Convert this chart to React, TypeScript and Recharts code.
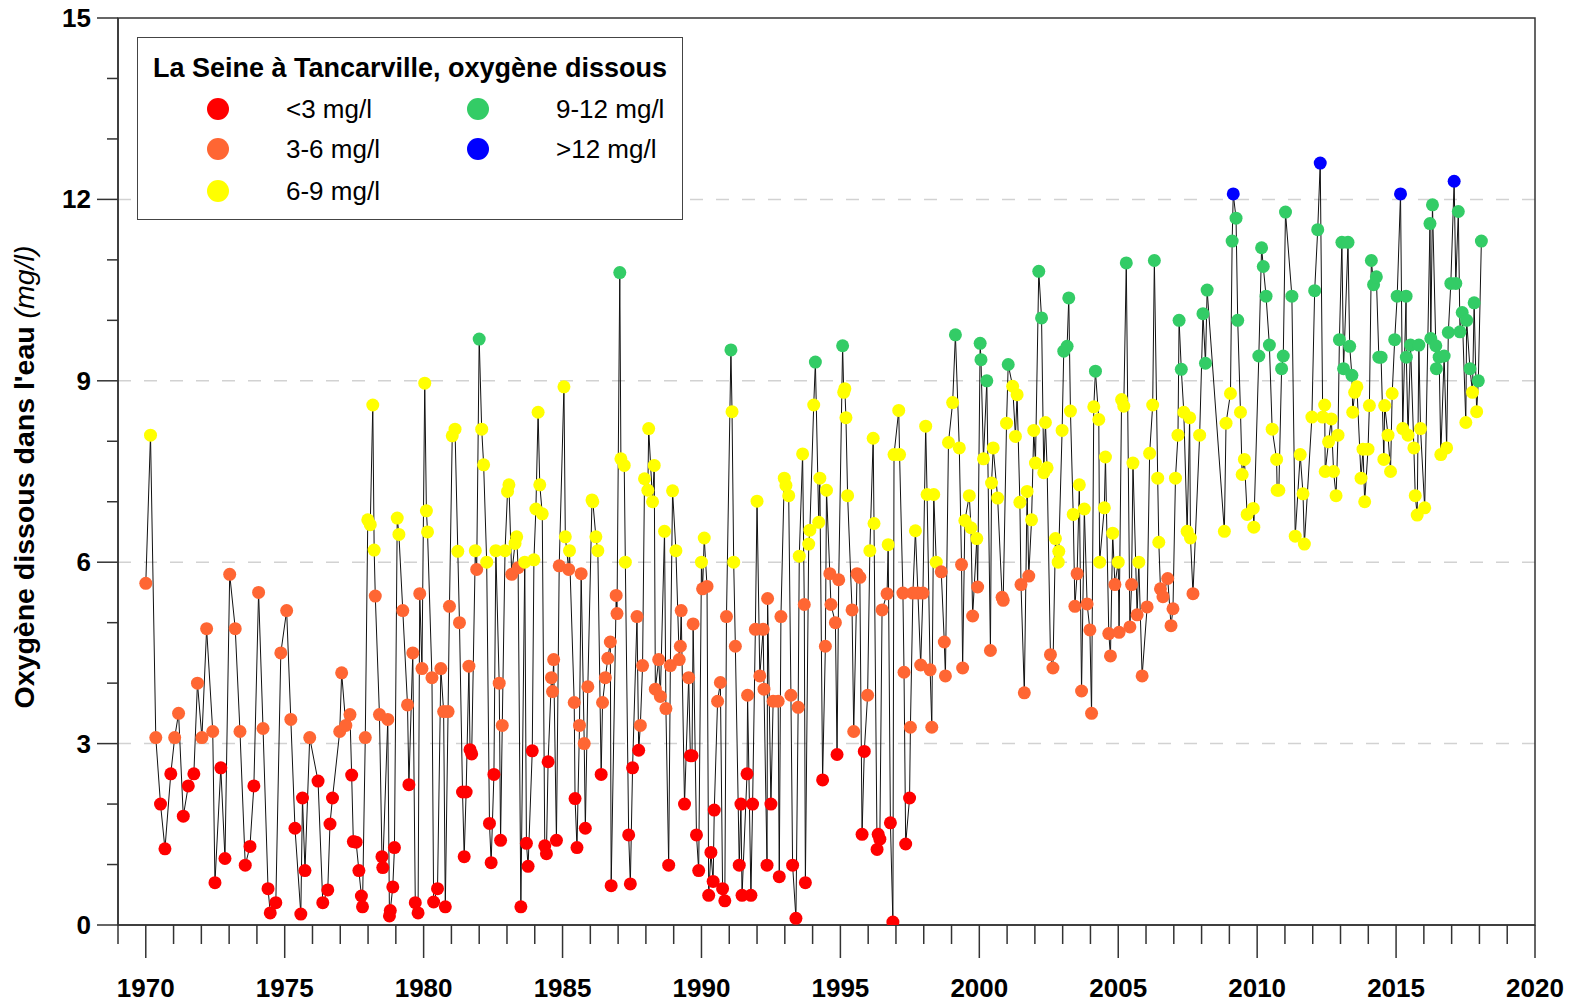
import React from "react";
import {
  ComposedChart,
  Line,
  XAxis,
  YAxis,
  CartesianGrid,
  ReferenceArea,
  Label,
} from "recharts";

// sampling dates (decimal years)
const sampleYears = [
  1970.0, 1970.17, 1970.36, 1970.53, 1970.69, 1970.9, 1971.04, 1971.18, 1971.35, 1971.53,
  1971.73, 1971.86, 1972.02, 1972.19, 1972.41, 1972.49, 1972.7, 1972.85, 1973.02, 1973.22,
  1973.39, 1973.58, 1973.75, 1973.89, 1974.06, 1974.22, 1974.4, 1974.48, 1974.68, 1974.86,
  1975.07, 1975.22, 1975.37, 1975.58, 1975.64, 1975.73, 1975.9, 1976.2, 1976.37, 1976.55,
  1976.63, 1976.72, 1976.98, 1977.05, 1977.2, 1977.35, 1977.41, 1977.47, 1977.57, 1977.67,
  1977.76, 1977.8, 1977.9, 1977.99, 1978.08, 1978.17, 1978.22, 1978.26, 1978.41, 1978.5,
  1978.53, 1978.71, 1978.77, 1978.8, 1978.89, 1978.95, 1979.05, 1979.11, 1979.25, 1979.42,
  1979.47, 1979.61, 1979.7, 1979.8, 1979.86, 1979.94,
  1980.04, 1980.1, 1980.14, 1980.3, 1980.36, 1980.5, 1980.62, 1980.72, 1980.78, 1980.88,
  1980.93, 1981.03, 1981.13, 1981.23, 1981.29, 1981.4, 1981.46, 1981.53, 1981.63, 1981.67,
  1981.73, 1981.86, 1981.91, 1982.0, 1982.09, 1982.16, 1982.27, 1982.37, 1982.43, 1982.53,
  1982.6, 1982.72, 1982.77, 1982.83, 1982.93, 1983.02, 1983.07, 1983.17, 1983.29, 1983.35,
  1983.4, 1983.5, 1983.64, 1983.7, 1983.76, 1983.91, 1983.97, 1984.04, 1984.12, 1984.18,
  1984.27, 1984.36, 1984.42, 1984.48, 1984.6, 1984.64, 1984.68, 1984.78, 1984.88,
  1985.05, 1985.1, 1985.22, 1985.25, 1985.42, 1985.45, 1985.52, 1985.61, 1985.67, 1985.78,
  1985.82, 1985.91, 1986.06, 1986.09, 1986.2, 1986.27, 1986.39, 1986.44, 1986.54, 1986.63,
  1986.72, 1986.75, 1986.93, 1986.96, 1987.06, 1987.1, 1987.22, 1987.26, 1987.38, 1987.44,
  1987.52, 1987.68, 1987.74, 1987.8, 1987.88, 1987.95, 1988.07, 1988.1, 1988.24, 1988.3,
  1988.34, 1988.46, 1988.52, 1988.67, 1988.72, 1988.82, 1988.88, 1988.96, 1989.08, 1989.2,
  1989.24, 1989.27, 1989.39, 1989.54, 1989.6, 1989.66, 1989.7, 1989.82, 1989.9,
  1990.0, 1990.04, 1990.1, 1990.2, 1990.26, 1990.34, 1990.42, 1990.46, 1990.58, 1990.68,
  1990.76, 1990.84, 1990.9, 1991.06, 1991.1, 1991.16, 1991.22, 1991.36, 1991.42, 1991.46,
  1991.64, 1991.66, 1991.78, 1991.84, 1991.94, 1992.0, 1992.1, 1992.22, 1992.25, 1992.36,
  1992.38, 1992.5, 1992.58, 1992.76, 1992.8, 1992.86, 1992.98, 1993.04, 1993.14, 1993.22,
  1993.28, 1993.4, 1993.48, 1993.52, 1993.64, 1993.7, 1993.74, 1993.86, 1993.9, 1994.04,
  1994.1, 1994.22, 1994.26, 1994.36, 1994.46, 1994.5, 1994.62, 1994.66, 1994.82, 1994.88,
  1994.94,
  1995.08, 1995.12, 1995.16, 1995.2, 1995.26, 1995.42, 1995.48, 1995.6, 1995.7, 1995.78,
  1995.86, 1995.98, 1996.06, 1996.18, 1996.21, 1996.32, 1996.36, 1996.42, 1996.5, 1996.68,
  1996.72, 1996.8, 1996.89, 1996.93, 1997.1, 1997.13, 1997.25, 1997.29, 1997.35, 1997.49,
  1997.52, 1997.61, 1997.7, 1997.79, 1997.89, 1997.97, 1998.07, 1998.12, 1998.23, 1998.29,
  1998.36, 1998.45, 1998.63, 1998.74, 1998.78, 1998.89, 1999.04, 1999.14, 1999.28, 1999.36,
  1999.4, 1999.48, 1999.64, 1999.7, 1999.76, 1999.91, 1999.94,
  2000.03, 2000.06, 2000.15, 2000.27, 2000.4, 2000.44, 2000.5, 2000.66, 2000.82, 2000.86,
  2000.98, 2001.04, 2001.2, 2001.3, 2001.36, 2001.46, 2001.5, 2001.62, 2001.72, 2001.78,
  2001.88, 2001.96, 2002.02, 2002.14, 2002.24, 2002.32, 2002.38, 2002.44, 2002.56, 2002.65,
  2002.74, 2002.84, 2002.86, 2002.98, 2003.04, 2003.16, 2003.22, 2003.28, 2003.38, 2003.44,
  2003.52, 2003.6, 2003.68, 2003.78, 2003.88, 2003.98, 2004.04, 2004.12, 2004.18, 2004.3,
  2004.33, 2004.5, 2004.54, 2004.66, 2004.72, 2004.8, 2004.88,
  2005.0, 2005.03, 2005.12, 2005.2, 2005.29, 2005.42, 2005.48, 2005.53, 2005.68, 2005.74,
  2005.86, 2006.04, 2006.13, 2006.24, 2006.3, 2006.42, 2006.46, 2006.52, 2006.61, 2006.78,
  2006.9, 2006.97, 2007.06, 2007.15, 2007.19, 2007.27, 2007.36, 2007.48, 2007.57, 2007.6,
  2007.69, 2007.93, 2008.05, 2008.14, 2008.2, 2008.82, 2008.88, 2009.04, 2009.1, 2009.14,
  2009.24, 2009.3, 2009.4, 2009.46, 2009.54, 2009.64, 2009.86, 2009.88,
  2010.06, 2010.16, 2010.22, 2010.32, 2010.44, 2010.54, 2010.7, 2010.72, 2010.78, 2010.88,
  2010.94, 2011.02, 2011.25, 2011.37, 2011.55, 2011.65, 2011.7, 2011.97, 2012.07, 2012.18,
  2012.27, 2012.36, 2012.43, 2012.45, 2012.57, 2012.67, 2012.75, 2012.84, 2012.91, 2012.96,
  2013.05, 2013.11, 2013.27, 2013.33, 2013.41, 2013.44, 2013.51, 2013.59, 2013.74, 2013.81,
  2013.87, 2013.99, 2014.04, 2014.11, 2014.19, 2014.29, 2014.38, 2014.46, 2014.56, 2014.59,
  2014.71, 2014.8, 2014.86, 2014.95,
  2015.04, 2015.16, 2015.24, 2015.36, 2015.37, 2015.43, 2015.52, 2015.64, 2015.69, 2015.76,
  2015.82, 2015.88, 2016.03, 2016.22, 2016.25, 2016.31, 2016.43, 2016.45, 2016.55, 2016.61,
  2016.73, 2016.82, 2016.88, 2016.97, 2017.09, 2017.15, 2017.24, 2017.3, 2017.38, 2017.51,
  2017.54, 2017.66, 2017.75, 2017.81, 2017.9, 2017.96, 2018.07,
];

// dissolved oxygen, mg/l (same order as sampleYears)
const oxygenMgL = [
  5.65, 8.1, 3.1, 2.0, 1.26, 2.5, 3.1, 3.5, 1.8, 2.3,
  2.5, 4.0, 3.1, 4.9, 3.2, 0.7, 2.6, 1.1, 5.8, 4.9,
  3.2, 0.99, 1.3, 2.3, 5.5, 3.25, 0.6, 0.2, 0.37, 4.5,
  5.2, 3.4, 1.6, 0.18, 2.1, 0.9, 3.1, 2.38, 0.37, 0.58,
  1.67, 2.1, 3.2, 4.17, 3.3, 3.48, 2.48, 1.38, 1.37, 0.9,
  0.48, 0.3, 3.1, 6.7, 6.62, 8.6, 6.2, 5.44, 3.48, 1.13,
  0.95, 3.4, 0.15, 0.24, 0.63, 1.28, 6.73, 6.46, 5.2, 3.64,
  2.32, 4.5, 0.37, 0.2, 5.48, 4.24,
  8.96, 6.85, 6.5, 4.09, 0.38, 0.6, 4.24, 3.53, 0.3, 3.53,
  5.27, 8.09, 8.2, 6.18, 5.0, 2.2, 1.13, 2.2, 4.28, 2.9,
  2.83, 6.19, 5.88, 9.69, 8.2, 7.61, 6.0, 1.68, 1.03, 2.49,
  6.19, 4.0, 1.4, 3.3, 6.19, 7.17, 7.28, 5.8, 6.31, 6.42,
  5.91, 0.3, 6.0, 1.35, 0.97, 2.88, 6.04, 6.88, 8.48, 7.28,
  6.8, 1.31, 1.18, 2.7, 4.09, 3.86, 4.39, 1.4, 5.94,
  8.9, 6.42, 5.88, 6.19, 3.68, 2.09, 1.28, 3.3, 5.81, 3.0,
  1.6, 3.94, 7.03, 7.0, 6.42, 6.19, 2.49, 3.68, 4.09, 4.41,
  4.68, 0.65, 5.45, 5.15, 10.79, 7.71, 7.6, 6.0, 1.49, 0.68,
  2.6, 5.1, 2.89, 3.3, 4.29, 7.38, 7.19, 8.21, 7.0, 7.6,
  3.9, 4.39, 3.78, 6.51, 3.58, 0.99, 4.29, 7.18, 6.19, 4.39,
  4.61, 5.2, 2.0, 4.09, 2.8, 2.8, 4.98, 1.49, 0.9,
  6.0, 5.56, 6.4, 5.6, 0.49, 1.2, 0.72, 1.9, 3.7, 4.01,
  0.6, 0.4, 5.1, 9.51, 8.49, 6.0, 4.61, 0.99, 2.0, 0.49,
  2.5, 3.8, 0.49, 2.0, 4.89, 7.01, 4.12, 4.89, 3.9, 0.99,
  5.4, 2.0, 3.7, 3.7, 0.8, 5.1, 7.39, 7.27, 7.1, 3.8,
  0.99, 0.11, 3.6, 6.1, 7.79, 5.3, 0.7, 6.3, 6.53, 8.6,
  9.31, 6.66, 7.39, 2.4, 4.61, 7.19, 5.81, 5.3, 5.0, 2.82,
  5.71,
  9.58, 8.81, 8.87, 8.39, 7.1, 5.21, 3.2, 5.81, 5.75, 1.5,
  2.87, 3.8, 6.19, 8.05, 6.64, 1.25, 1.5, 1.42, 5.21, 5.48,
  6.29, 1.69, 0.05, 7.78, 8.51, 7.78, 5.49, 4.18, 1.34, 2.1,
  3.27, 5.49, 6.52, 5.49, 4.3, 5.49, 8.25, 7.12, 4.22, 3.27,
  7.12, 6.0, 5.84, 4.68, 4.12, 7.98, 8.64, 9.76, 7.89, 5.96,
  4.25, 6.69, 7.1, 6.57, 5.11, 6.39, 5.59,
  9.62, 9.35, 7.71, 9.0, 4.54, 7.31, 7.89, 7.06, 5.42, 5.37,
  8.3, 9.27, 8.91, 8.08, 8.77, 6.99, 5.63, 3.84, 7.17, 5.77,
  6.7, 8.18, 7.64, 10.81, 10.04, 7.48, 8.31, 7.56, 4.47, 4.25,
  6.39, 6.0, 6.18, 8.18, 9.49, 9.57, 10.37, 8.5, 6.79, 5.27,
  5.81, 7.28, 3.87, 6.88, 5.31, 4.88, 3.5, 8.57, 9.16, 8.36,
  6.0, 6.9, 7.74, 4.82, 4.45, 6.48, 5.63,
  6.0, 4.84, 8.69, 8.58, 10.95, 4.93, 5.63, 7.64, 5.13, 6.0,
  4.12, 5.26, 7.8, 8.6, 10.99, 7.39, 6.33, 5.56, 5.43, 5.73,
  4.95, 5.23, 7.39, 8.1, 10.0, 9.19, 8.48, 6.51, 8.39, 6.4,
  5.48, 8.1, 10.11, 9.29, 10.5, 6.51, 8.3, 8.79, 11.31, 12.09,
  11.69, 10.0, 8.48, 7.45, 7.7, 6.79, 6.89, 6.58,
  9.41, 11.2, 10.89, 10.4, 9.59, 8.2, 7.7, 7.19, 7.19, 9.2,
  9.41, 11.79, 10.4, 6.43, 7.78, 7.13, 6.3, 8.4, 10.49, 11.5,
  12.6, 8.4, 8.6, 7.5, 7.99, 8.37, 7.5, 7.1, 8.1, 9.68,
  11.29, 9.2, 11.29, 9.57, 9.09, 8.48, 8.81, 8.9, 7.39, 7.87,
  7.0, 7.87, 8.59, 10.99, 10.59, 10.72, 9.39, 9.39, 7.7, 8.59,
  8.1, 7.5, 8.79, 9.68,
  10.4, 12.09, 8.21, 10.4, 9.39, 8.1, 9.59, 7.89, 7.1, 6.78,
  9.59, 8.21, 6.9, 11.6, 9.7, 11.91, 9.58, 9.2, 9.39, 7.78,
  9.41, 7.89, 9.8, 10.61, 12.3, 10.61, 11.8, 9.81, 10.13, 8.31,
  10.0, 9.2, 8.81, 10.29, 8.49, 9.0, 11.31,
];

const classLabels = ["<3 mg/l", "3-6 mg/l", "6-9 mg/l", "9-12 mg/l", ">12 mg/l"];
const classColors = ["#ff0000", "#ff6633", "#ffff00", "#33cc66", "#0000ff"];
const classBreaks = [3, 6, 9, 12];

const yearTicks = Array.from({ length: 52 }, (_, i) => 1969 + i);
const oxygenTicks = Array.from({ length: 16 }, (_, i) => i);
const gridValues = [3, 6, 9, 12];

const data = sampleYears.map((t, i) => ({ t, v: oxygenMgL[i] }));

const FONT = '"Liberation Sans", Arial, sans-serif';

function colorFor(v: number) {
  let k = 0;
  while (k < classBreaks.length && v >= classBreaks[k]) k++;
  return classColors[k];
}

const YTick = (props: any) => {
  const { x, y, payload } = props;
  const major = payload.value % 3 === 0;
  return (
    <g>
      <line x1={x - (major ? 21 : 11)} x2={x} y1={y} y2={y} stroke="#333" strokeWidth={1.5} />
      {major && (
        <text x={x - 27} y={y} textAnchor="end" dominantBaseline="central" fontFamily={FONT} fontWeight="bold" fontSize={26} fill="#000">
          {payload.value}
        </text>
      )}
    </g>
  );
};

const XTick = (props: any) => {
  const { x, y, payload } = props;
  const major = payload.value % 5 === 0;
  return (
    <g>
      <line x1={x} x2={x} y1={y} y2={y + (major ? 33 : 19)} stroke="#333" strokeWidth={1.5} />
      {major && (
        <text x={x} y={y + 63} textAnchor="middle" dominantBaseline="central" fontFamily={FONT} fontWeight="bold" fontSize={26} fill="#000">
          {payload.value}
        </text>
      )}
    </g>
  );
};

const YTitle = () => (
  <text
    transform="translate(24, 477) rotate(-90)"
    textAnchor="middle"
    dominantBaseline="central"
    fontFamily={FONT}
    fontSize={28.5}
    fill="#000"
  >
    <tspan fontWeight="bold">Oxygène dissous dans l'eau </tspan>
    <tspan fontStyle="italic">(mg/l)</tspan>
  </text>
);

const renderDot = (p: any) => (
  <circle key={`dot-${p.index}`} cx={p.cx} cy={p.cy} r={6.5} fill={colorFor(p.payload.v)} />
);

const legendSlots = [
  { left: 80, top: 71, text: 148 },
  { left: 80, top: 111, text: 148 },
  { left: 80, top: 153, text: 148 },
  { left: 340, top: 71, text: 418 },
  { left: 340, top: 111, text: 418 },
];

export default function App() {
  return (
    <div style={{ position: "absolute", left: 0, top: 0, width: 1572, height: 1004, background: "#fff" }}>
      <ComposedChart width={1572} height={1004} data={data} margin={{ top: 18, right: 37, bottom: 0, left: 0 }}>
        <CartesianGrid
          vertical={false}
          horizontalValues={gridValues}
          stroke="#d2d2d2"
          strokeWidth={1.5}
          strokeDasharray="13 13"
        />
        <XAxis
          type="number"
          dataKey="t"
          domain={[1969, 2020]}
          ticks={yearTicks}
          interval={0}
          height={79}
          tickSize={0}
          tickMargin={0}
          tickLine={false}
          tick={<XTick />}
          axisLine={{ stroke: "#333", strokeWidth: 1.5 }}
          allowDataOverflow
        />
        <YAxis
          type="number"
          domain={[0, 15]}
          ticks={oxygenTicks}
          interval={0}
          width={118}
          tickSize={0}
          tickMargin={0}
          tickLine={false}
          tick={<YTick />}
          axisLine={{ stroke: "#333", strokeWidth: 1.5 }}
          allowDataOverflow
        >
          <Label content={<YTitle />} />
        </YAxis>
        <ReferenceArea
          x1={1969}
          x2={2020}
          y1={0}
          y2={15}
          fill="none"
          fillOpacity={0}
          stroke="#333"
          strokeWidth={1.5}
          ifOverflow="visible"
        />
        <Line
          type="linear"
          dataKey="v"
          stroke="#111"
          strokeWidth={1}
          dot={renderDot}
          activeDot={false}
          isAnimationActive={false}
        />
      </ComposedChart>

      <div
        style={{
          position: "absolute",
          left: 137,
          top: 37,
          width: 546,
          height: 183,
          boxSizing: "border-box",
          border: "1.5px solid #444",
          background: "#fff",
          fontFamily: FONT,
          color: "#000",
        }}
      >
        <div style={{ position: "absolute", left: 0, right: 0, top: 16, textAlign: "center", fontWeight: "bold", fontSize: 27, lineHeight: "28px" }}>
          La Seine à Tancarville, oxygène dissous
        </div>
        {classLabels.map((label, i) => (
          <React.Fragment key={label}>
            <div
              style={{
                position: "absolute",
                left: legendSlots[i].left - 11,
                top: legendSlots[i].top - 11,
                width: 22,
                height: 22,
                borderRadius: "50%",
                background: classColors[i],
              }}
            />
            <div style={{ position: "absolute", left: legendSlots[i].text, top: legendSlots[i].top - 15, fontSize: 26, lineHeight: "30px" }}>
              {label}
            </div>
          </React.Fragment>
        ))}
      </div>
    </div>
  );
}
